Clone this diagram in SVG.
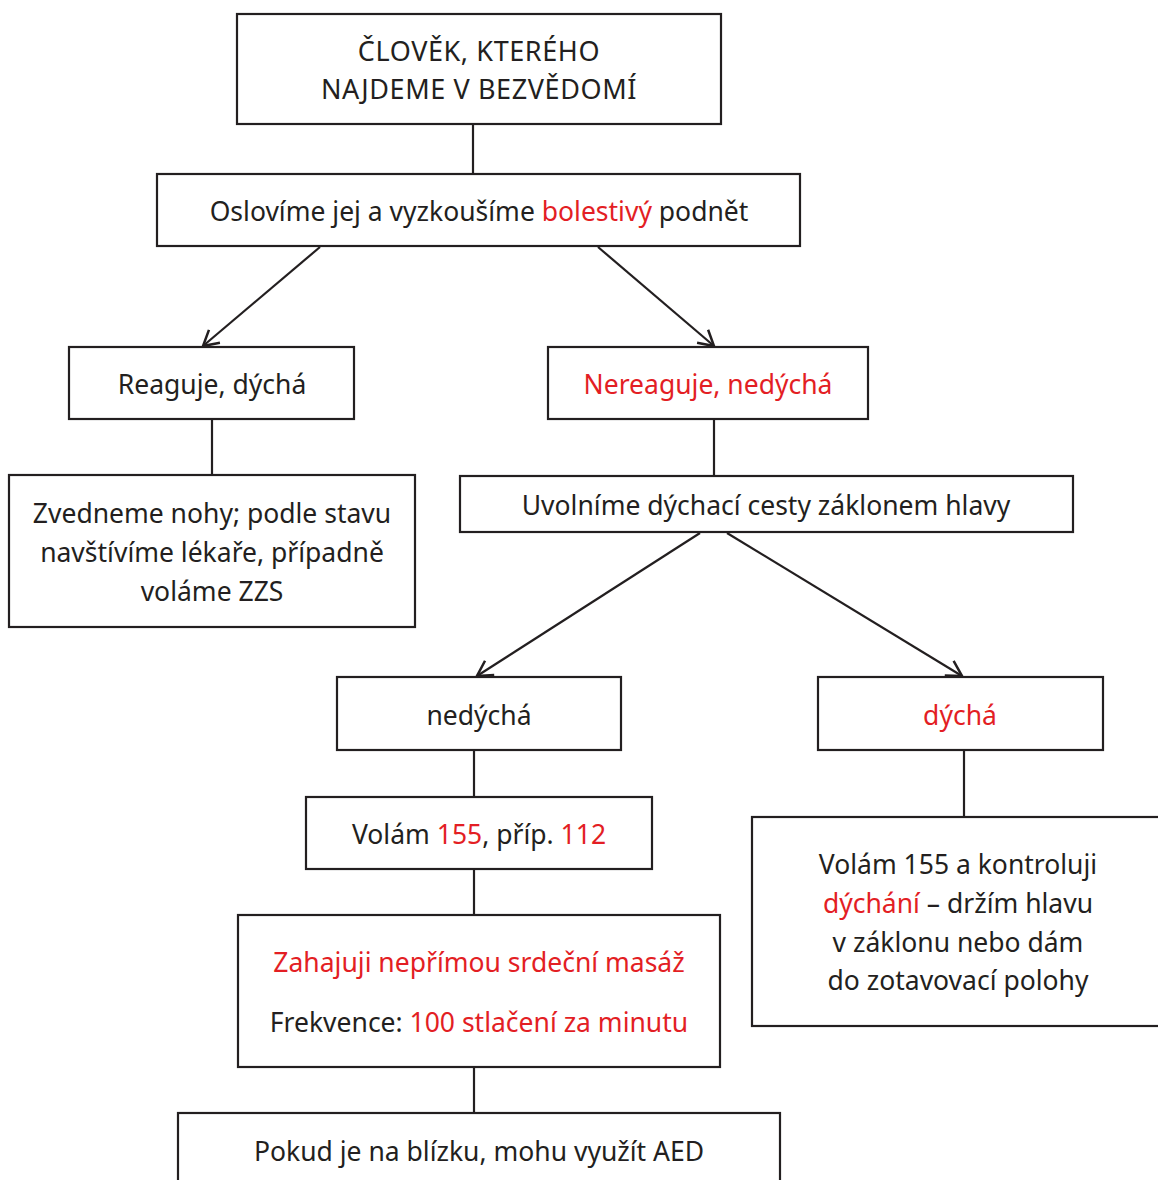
<svg xmlns="http://www.w3.org/2000/svg" width="1158" height="1180" viewBox="0 0 1158 1180">
<style>
.box{fill:#fff;stroke:#231f20;stroke-width:2.2}
.t{font-family:"Noto Sans","Open Sans",sans-serif;font-size:26.5px;fill:#231f20;text-anchor:middle}
.u{font-size:27px;letter-spacing:0.6px}
.r{fill:#e31e24}
.c{stroke:#231f20;stroke-width:2.2;fill:none}
</style>
<defs>
<marker id="ah" viewBox="0 0 26 26" refX="18" refY="13" markerWidth="26" markerHeight="26" markerUnits="userSpaceOnUse" orient="auto">
<path d="M3,4.5 L18,13 L3,21.5" fill="none" stroke="#231f20" stroke-width="2.5"/>
</marker>
</defs>
<rect width="1158" height="1180" fill="#fff"/>
<g id="connectors">
<line class="c" x1="473" y1="124" x2="473" y2="174"/>
<line class="c" x1="320" y1="247" x2="203" y2="346" marker-end="url(#ah)"/>
<line class="c" x1="598" y1="247" x2="714" y2="346" marker-end="url(#ah)"/>
<line class="c" x1="212" y1="419" x2="212" y2="475"/>
<line class="c" x1="714" y1="419" x2="714" y2="476"/>
<line class="c" x1="700" y1="533" x2="477" y2="676" marker-end="url(#ah)"/>
<line class="c" x1="727" y1="533" x2="962" y2="676" marker-end="url(#ah)"/>
<line class="c" x1="474" y1="750" x2="474" y2="797"/>
<line class="c" x1="964" y1="750" x2="964" y2="817"/>
<line class="c" x1="474" y1="869" x2="474" y2="915"/>
<line class="c" x1="474" y1="1067" x2="474" y2="1113"/>
</g>
<g id="n1"><rect class="box" x="237" y="14" width="484" height="110"/>
<text class="t u" x="479" y="61">ČLOVĚK, KTERÉHO</text>
<text class="t u" x="479" y="99">NAJDEME V BEZVĚDOMÍ</text></g>
<g id="n2"><rect class="box" x="157" y="174" width="643" height="72"/>
<text class="t" x="479" y="221">Oslovíme jej a vyzkoušíme <tspan class="r">bolestivý</tspan> podnět</text></g>
<g id="n3"><rect class="box" x="69" y="347" width="285" height="72"/>
<text class="t" x="212" y="394">Reaguje, dýchá</text></g>
<g id="n4"><rect class="box" x="548" y="347" width="320" height="72"/>
<text class="t r" x="708" y="394">Nereaguje, nedýchá</text></g>
<g id="n5"><rect class="box" x="9" y="475" width="406" height="152"/>
<text class="t" x="212" y="523">Zvedneme nohy; podle stavu</text>
<text class="t" x="212" y="562">navštívíme lékaře, případně</text>
<text class="t" x="212" y="601">voláme ZZS</text></g>
<g id="n6"><rect class="box" x="460" y="476" width="613" height="56"/>
<text class="t" x="766" y="515">Uvolníme dýchací cesty záklonem hlavy</text></g>
<g id="n7"><rect class="box" x="337" y="677" width="284" height="73"/>
<text class="t" x="479" y="725">nedýchá</text></g>
<g id="n8"><rect class="box" x="818" y="677" width="285" height="73"/>
<text class="t r" x="960" y="725">dýchá</text></g>
<g id="n9"><rect class="box" x="306" y="797" width="346" height="72"/>
<text class="t" x="479" y="844">Volám <tspan class="r">155</tspan>, příp. <tspan class="r">112</tspan></text></g>
<g id="n10"><rect class="box" x="752" y="817" width="420" height="209"/>
<text class="t" x="958" y="874">Volám 155 a kontroluji</text>
<text class="t" x="958" y="913"><tspan class="r">dýchání</tspan> – držím hlavu</text>
<text class="t" x="958" y="952">v záklonu nebo dám</text>
<text class="t" x="958" y="990">do zotavovací polohy</text></g>
<g id="n11"><rect class="box" x="238" y="915" width="482" height="152"/>
<text class="t r" x="479" y="972">Zahajuji nepřímou srdeční masáž</text>
<text class="t" x="479" y="1032">Frekvence: <tspan class="r">100 stlačení za minutu</tspan></text></g>
<g id="n12"><rect class="box" x="178" y="1113" width="602" height="90"/>
<text class="t" x="479" y="1161">Pokud je na blízku, mohu využít AED</text></g>
</svg>
